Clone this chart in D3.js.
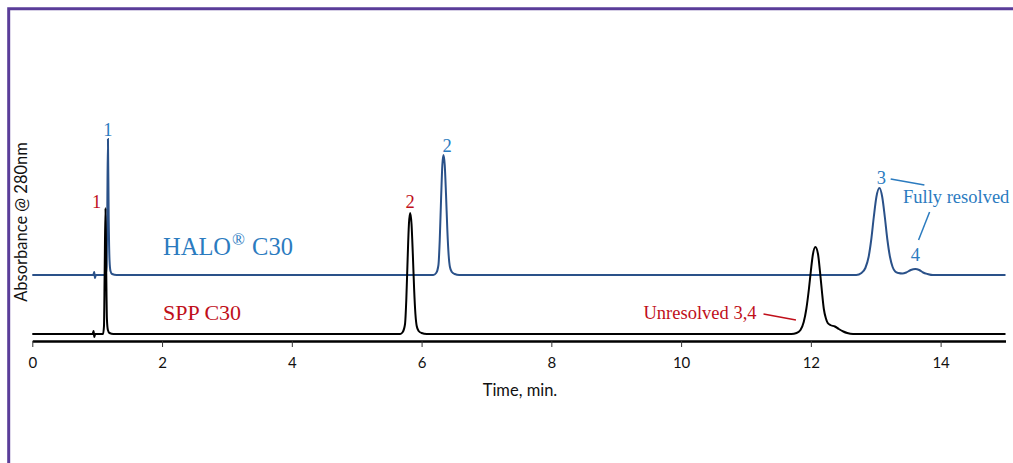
<!DOCTYPE html>
<html>
<head>
<meta charset="utf-8">
<script src="https://cdn.jsdelivr.net/npm/d3@7"></script>
<style>
  body { margin: 0; background: #fff; }
  svg { display: block; }
</style>
</head>
<body>
<svg id="chart" width="1013" height="463"></svg>
<script>
// time ticks (min)
const timeTicks = [0, 2, 4, 6, 8, 10, 12, 14];

// SPP C30 trace, [time (min), absorbance (mAU)]
const sppTrace = [
  [0, 0], [0.93, 0], [0.945, 3], [0.955, -3], [0.97, 0],
  [1.09, 0], [1.105, 8], [1.115, 60], [1.128, 126], [1.14, 60], [1.15, 15], [1.165, 4], [1.19, 1], [1.25, 0],
  [5.67, 0], [5.71, 2], [5.745, 10], [5.765, 35], [5.785, 75], [5.805, 110], [5.824, 121], [5.845, 110],
  [5.865, 80], [5.885, 45], [5.905, 20], [5.925, 8], [5.955, 3], [6.0, 1], [6.08, 0],
  [11.70, 0], [11.78, 1], [11.84, 4], [11.89, 12], [11.93, 25], [11.97, 45], [12.0, 63], [12.03, 79],
  [12.07, 87], [12.11, 80], [12.14, 63], [12.17, 43], [12.2, 25], [12.23, 16], [12.26, 11], [12.3, 9],
  [12.37, 7.5], [12.43, 5], [12.5, 2.5], [12.56, 1], [12.65, 0],
  [15, 0]
];

// HALO C30 trace, same units, drawn above SPP with an offset
const haloTrace = [
  [0, 0], [0.94, 0], [0.955, 3], [0.965, -3], [0.98, 0],
  [1.13, 0], [1.145, 8], [1.155, 60], [1.166, 136], [1.177, 60], [1.19, 15], [1.205, 4], [1.23, 1], [1.3, 0],
  [6.18, 0], [6.225, 2], [6.26, 10], [6.28, 35], [6.3, 75], [6.32, 110], [6.337, 120], [6.357, 110],
  [6.377, 80], [6.397, 45], [6.417, 20], [6.437, 8], [6.467, 3], [6.51, 1], [6.58, 0],
  [12.7, 0], [12.78, 2], [12.84, 7], [12.89, 18], [12.93, 35], [12.97, 58], [13.01, 78], [13.057, 87],
  [13.10, 78], [13.14, 58], [13.18, 35], [13.22, 18], [13.26, 8], [13.3, 3.5], [13.35, 2], [13.41, 1.5],
  [13.47, 2.5], [13.54, 5], [13.61, 6], [13.67, 5], [13.73, 2.5], [13.8, 1], [13.88, 0],
  [15, 0]
];
const haloOffset = 59;

const blue = "#2b7bbf", red = "#c00f1a";
const serif = "'Liberation Serif', 'Times New Roman', serif";
const sans = "Lato, sans-serif";

const svg = d3.select("#chart");

// purple frame (top + left)
svg.append("path")
  .attr("d", "M8.7,463 V8.7 H1013")
  .attr("fill", "none")
  .attr("stroke", "#5a3d99")
  .attr("stroke-width", 3);

const x = d3.scaleLinear().domain([0, 15]).range([32.3, 1005.5]);
const y = d3.scaleLinear().domain([-7, 214]).range([341, 120]);

const line = d3.line()
  .x(d => x(d[0]))
  .y(d => y(d[1]))
  .curve(d3.curveMonotoneX);

svg.append("path")
  .datum(haloTrace.map(d => [d[0], d[1] + haloOffset]))
  .attr("d", line)
  .attr("fill", "none")
  .attr("stroke", "#2a5189")
  .attr("stroke-width", 2);

svg.append("path")
  .datum(sppTrace)
  .attr("d", line)
  .attr("fill", "none")
  .attr("stroke", "#000")
  .attr("stroke-width", 2);

// x axis
const xAxis = svg.append("g")
  .attr("transform", "translate(0," + y(-7) + ")")
  .call(d3.axisBottom(x).tickValues(timeTicks).tickFormat(d3.format("d"))
    .tickSize(6).tickSizeOuter(0).tickPadding(10));
xAxis.select(".domain").attr("stroke", "#000").attr("stroke-width", 2.5);
xAxis.selectAll(".tick line").attr("stroke", "#333").attr("stroke-width", 1);
xAxis.selectAll(".tick text")
  .attr("font-family", sans)
  .attr("font-size", 15)
  .attr("fill", "#111");

svg.append("text")
  .attr("x", 520).attr("y", 396)
  .attr("text-anchor", "middle")
  .attr("font-family", sans)
  .attr("font-size", 16.5)
  .attr("fill", "#111")
  .text("Time, min.");

svg.append("text")
  .attr("transform", "translate(27,222) rotate(-90)")
  .attr("text-anchor", "middle")
  .attr("font-family", sans)
  .attr("font-size", 16.5)
  .attr("fill", "#111")
  .text("Absorbance @ 280nm");

// peak labels: [time, absorbance of label baseline, text, colour, anchor]
const peakLabels = [
  [1.166, 198, "1", blue, "middle"],
  [0.99, 126, "1", red, "middle"],
  [6.395, 182, "2", blue, "middle"],
  [5.824, 126, "2", red, "middle"],
  [13.085, 150, "3", blue, "middle"],
  [13.61, 73, "4", blue, "middle"],
  [13.42, 131, "Fully resolved", blue, "start"],
  [9.42, 15, "Unresolved 3,4", red, "start"]
];

svg.selectAll(".peak-label")
  .data(peakLabels)
  .join("text")
  .attr("class", "peak-label")
  .attr("x", d => x(d[0]))
  .attr("y", d => y(d[1]))
  .attr("text-anchor", d => d[4])
  .attr("font-family", serif)
  .attr("font-size", 18.5)
  .attr("fill", d => d[3])
  .text(d => d[2]);

// leader lines [t1, v1, t2, v2, colour]
const leaders = [
  [13.23, 155, 13.75, 149, blue],
  [13.83, 122, 13.66, 94, blue],
  [11.27, 20, 11.77, 14, red]
];
svg.selectAll(".leader")
  .data(leaders)
  .join("line")
  .attr("class", "leader")
  .attr("x1", d => x(d[0])).attr("y1", d => y(d[1]))
  .attr("x2", d => x(d[2])).attr("y2", d => y(d[3]))
  .attr("stroke", d => d[4])
  .attr("stroke-width", 1.5);

// column names
const halo = svg.append("text")
  .attr("x", 163).attr("y", 255)
  .attr("font-family", serif)
  .attr("font-size", 24.5)
  .attr("fill", blue);
halo.append("tspan").text("HALO");
halo.append("tspan").attr("font-size", 17).attr("dx", 1).attr("dy", -10).text("®");
halo.append("tspan").attr("dx", 1).attr("dy", 10).text(" C30");

svg.append("text")
  .attr("x", 163).attr("y", 320)
  .attr("font-family", serif)
  .attr("font-size", 22)
  .attr("fill", red)
  .text("SPP C30");
</script>
</body>
</html>
